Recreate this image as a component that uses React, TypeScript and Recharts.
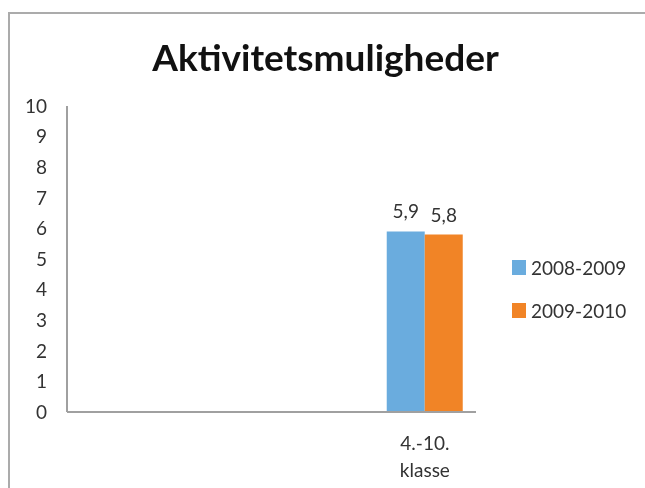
import React from 'react';
import { BarChart, Bar, XAxis, YAxis, Legend, LabelList } from 'recharts';

const categories = ['', ' ', '  ', '4.-10. klasse'];
const values2008 = [null, null, null, 5.9];
const values2009 = [null, null, null, 5.8];
const seriesNames = ['2008-2009', '2009-2010'];
const seriesColors = ['#6AACDE', '#F18426'];
const yTicks = [0, 1, 2, 3, 4, 5, 6, 7, 8, 9, 10];
const title = 'Aktivitetsmuligheder';

const data = categories.map((name, i) => ({
  name,
  s2008: values2008[i],
  s2009: values2009[i],
}));

const FONT = 'Lato, "Noto Sans", sans-serif';
const TEXT = '#333333';

const XTick = (props: any) => {
  const { x, y, payload } = props;
  const lines = String(payload.value).trim() === '' ? [] : String(payload.value).split(' ');
  return (
    <text x={x} y={y} textAnchor="middle" fill={TEXT} fontSize={19} fontFamily={FONT}>
      {lines.map((l: string, i: number) => (
        <tspan key={i} x={x} dy={i === 0 ? 30 : 27}>{l}</tspan>
      ))}
    </text>
  );
};

const LegendContent = () => (
  <div style={{ fontFamily: FONT, fontSize: 19, color: TEXT }}>
    {seriesNames.map((n, i) => (
      <div key={n} style={{ display: 'flex', alignItems: 'center', height: 43 }}>
        <div style={{ width: 14, height: 15, background: seriesColors[i], marginRight: 5 }} />
        <span style={{ lineHeight: '20px' }}>{n}</span>
      </div>
    ))}
  </div>
);

const fmt = (v: any) => (v == null ? '' : String(v).replace('.', ','));

export default function App() {
  return (
    <div>
      <style>{'html,body{overflow:hidden}'}</style>
      <div style={{ position: 'fixed', left: 8, top: 12, width: 760, height: 560, overflow: 'hidden' }}>
        <div
          style={{
            position: 'absolute', left: 0, top: 0, width: 760, height: 560,
            borderLeft: '2px solid #ababab', borderTop: '2px solid #ababab', boxSizing: 'border-box',
          }}
        />
        <div
          style={{
            position: 'absolute', left: 0, top: 22, width: 635, textAlign: 'center',
            fontFamily: FONT, fontWeight: 700, fontSize: 37, color: '#111', lineHeight: '46px',
          }}
        >
          {title}
        </div>
        <div style={{ position: 'absolute', left: 0, top: 0 }}>
          <BarChart
            width={637}
            height={476}
            data={data}
            margin={{ top: 94, right: 169, bottom: 16, left: 0 }}
            barCategoryGap="12.7%"
            barGap={0}
          >
            <XAxis
              dataKey="name"
              tickLine={false}
              axisLine={{ stroke: '#a0a0a0', strokeWidth: 2 }}
              tick={<XTick />}
              height={60}
              interval={0}
            />
            <YAxis
              domain={[0, 10]}
              ticks={yTicks}
              interval={0}
              tickLine={false}
              axisLine={{ stroke: '#a0a0a0', strokeWidth: 2 }}
              width={59}
              tickMargin={14}
              tick={{ fill: TEXT, fontSize: 19, fontFamily: FONT }}
            />
            <Legend
              layout="vertical"
              align="center"
              verticalAlign="middle"
              wrapperStyle={{ left: 504, top: 234, width: 130 }}
              content={<LegendContent />}
            />
            <Bar dataKey="s2008" name={seriesNames[0]} fill={seriesColors[0]} isAnimationActive={false}>
              <LabelList dataKey="s2008" position="top" offset={13} formatter={fmt} fill={TEXT} fontSize={19} fontFamily={FONT} />
            </Bar>
            <Bar dataKey="s2009" name={seriesNames[1]} fill={seriesColors[1]} isAnimationActive={false}>
              <LabelList dataKey="s2009" position="top" offset={13} formatter={fmt} fill={TEXT} fontSize={19} fontFamily={FONT} />
            </Bar>
          </BarChart>
        </div>
      </div>
    </div>
  );
}
